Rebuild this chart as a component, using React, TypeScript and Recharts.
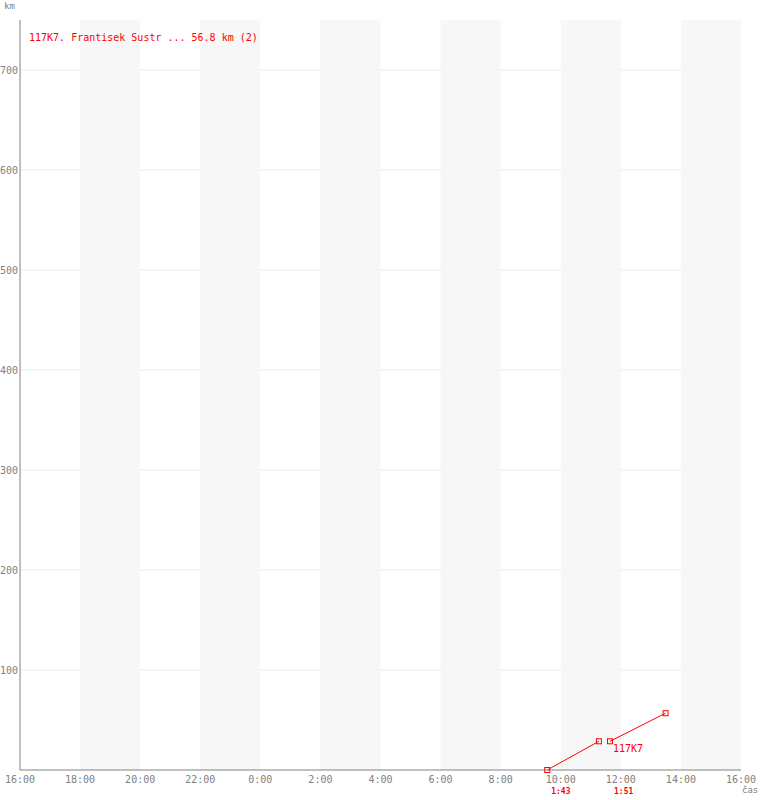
import {
  LineChart,
  Line,
  XAxis,
  YAxis,
  CartesianGrid,
  ReferenceArea,
  ReferenceDot,
} from "recharts";

// hours counted from 16:00 of the first day
const xTicks = [0, 2, 4, 6, 8, 10, 12, 14, 16, 18, 20, 22, 24];
const xTickLabels = [
  "16:00", "18:00", "20:00", "22:00", "0:00", "2:00", "4:00",
  "6:00", "8:00", "10:00", "12:00", "14:00", "16:00",
];
const yTicks = [100, 200, 300, 400, 500, 600, 700];

// shaded two-hour bands (start, end)
const bandStarts = [2, 6, 10, 14, 18, 22];
const bandEnds = [4, 8, 12, 16, 20, 24];

// legs of the ride: start/end time (hours after 16:00) and cumulative km
const leg1Times = [17.55, 19.27];
const leg1Km = [0, 28.7];
const leg2Times = [19.64, 21.49];
const leg2Km = [28.7, 56.8];
const legDurations = ["1:43", "1:51"];

const RED = "#ff0000";
const GREY = "#808080";
const FONT = "'DejaVu Sans Mono', monospace";

const leg1 = leg1Times.map((t, i) => ({ t, km: leg1Km[i] }));
const leg2 = leg2Times.map((t, i) => ({ t, km: leg2Km[i] }));

const SquareDot = (props: any) => {
  const { cx, cy } = props;
  if (cx == null || cy == null) return null;
  return (
    <rect
      x={cx - 2.5}
      y={cy - 2.5}
      width={5}
      height={5}
      fill="none"
      stroke={RED}
      strokeWidth={1}
    />
  );
};

export default function App() {
  return (
    <div style={{ position: "absolute", left: 0, top: 0, width: 760, height: 800 }}>
      <LineChart
        width={760}
        height={800}
        margin={{ top: 20, right: 19, bottom: 0, left: 0 }}
      >
        {bandStarts.map((s, i) => (
          <ReferenceArea
            key={i}
            x1={s}
            x2={bandEnds[i]}
            fill="#f7f7f7"
            fillOpacity={1}
            stroke="none"
          />
        ))}
        <CartesianGrid
          vertical={false}
          stroke="#ebebeb"
          horizontalValues={yTicks}
        />
        <XAxis
          type="number"
          dataKey="t"
          domain={[0, 24]}
          ticks={xTicks}
          tickFormatter={(v: number) => xTickLabels[xTicks.indexOf(v)]}
          height={30}
          tickLine={false}
          tickSize={0}
          tickMargin={6}
          stroke={GREY}
          tick={{ fill: GREY, fontSize: 10, fontFamily: FONT }}
          interval={0}
        />
        <YAxis
          type="number"
          domain={[0, 750]}
          ticks={yTicks}
          width={20}
          tickLine={false}
          tickSize={0}
          tickMargin={2}
          stroke={GREY}
          tick={{ fill: GREY, fontSize: 10, fontFamily: FONT }}
          interval={0}
        />
        <Line
          data={leg1}
          dataKey="km"
          stroke={RED}
          strokeWidth={1}
          dot={<SquareDot />}
          activeDot={false}
          isAnimationActive={false}
        />
        <Line
          data={leg2}
          dataKey="km"
          stroke={RED}
          strokeWidth={1}
          dot={<SquareDot />}
          activeDot={false}
          isAnimationActive={false}
          label={(p: any) =>
            p.index === 0 ? (
              <text
                key="lbl"
                x={p.x + 3}
                y={p.y + 11}
                fill={RED}
                fontSize={10}
                fontFamily={FONT}
              >
                117K7
              </text>
            ) : null
          }
        />
        {[leg1Times[0], leg2Times[0]].map((t, i) => (
          <ReferenceDot
            key={"d" + i}
            x={t}
            y={0}
            r={0}
            stroke="none"
            label={(p: any) => (
              <text
                x={p.viewBox.x + 4}
                y={p.viewBox.y + 24}
                fill={RED}
                fontSize={8}
                fontWeight="bold"
                fontFamily={FONT}
              >
                {legDurations[i]}
              </text>
            )}
          />
        ))}
      </LineChart>
      <div
        style={{
          position: "absolute",
          left: 29,
          top: 31,
          color: RED,
          fontFamily: FONT,
          fontSize: 10,
          lineHeight: "14px",
          whiteSpace: "nowrap",
        }}
      >
        117K7. Frantisek Sustr ... 56.8 km (2)
      </div>
      <div
        style={{
          position: "absolute",
          left: 4,
          top: 0,
          color: GREY,
          fontFamily: FONT,
          fontSize: 9,
          lineHeight: "12px",
        }}
      >
        km
      </div>
      <div
        style={{
          position: "absolute",
          left: 742,
          top: 784,
          color: GREY,
          fontFamily: FONT,
          fontSize: 9,
          lineHeight: "12px",
        }}
      >
        čas
      </div>
    </div>
  );
}
